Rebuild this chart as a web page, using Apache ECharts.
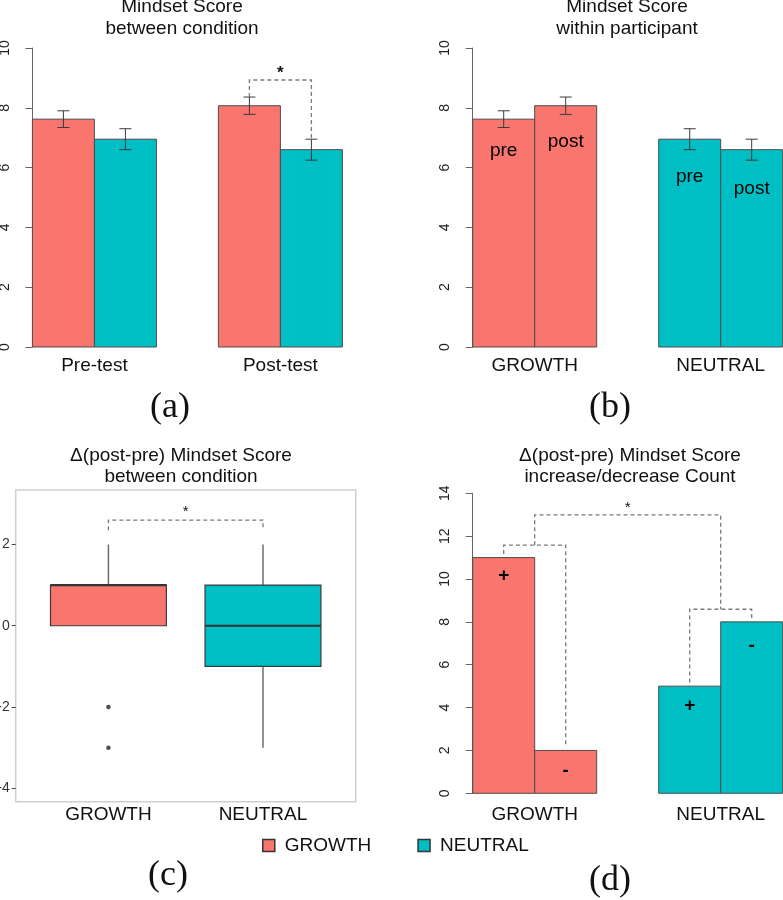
<!DOCTYPE html>
<html><head><meta charset="utf-8">
<script src="https://cdn.jsdelivr.net/npm/echarts@6/dist/echarts.min.js"></script>
<style>html,body{margin:0;padding:0;background:#fff}#c{width:783px;height:900px}</style>
</head><body><div id="c"></div>
<script>
// ---------------- data ----------------
const groups = ['GROWTH', 'NEUTRAL'];
const testCats = ['Pre-test', 'Post-test'];
const phaseLabels = ['pre', 'post'];
const growthMean = [7.62, 8.07];     // pre, post
const growthSE = [0.28, 0.29];
const neutralMean = [6.95, 6.60];    // pre, post
const neutralSE = [0.35, 0.35];
const scoreTicks = [0, 2, 4, 6, 8, 10];
// (c) post-pre delta: [lower whisker, Q1, median, Q3, upper whisker]
const growthDeltaBox = [0, 0, 1, 1, 2];
const neutralDeltaBox = [-3, -1, 0, 1, 2];
const growthDeltaOutliers = [-2, -3];
const neutralDeltaOutliers = [];
const deltaTicks = [-4, -2, 0, 2];
// (d) counts: [increase (+), decrease (-)]
const changeSigns = ['+', '-'];
const growthCounts = [11, 2];
const neutralCounts = [5, 8];
const countTicks = [0, 2, 4, 6, 8, 10, 12, 14];
// significance annotations (data units)
const sigA = { level: 8.93, star: 9.15 };
const sigC = { level: 2.6, end: 2.35, star: 2.8 };
const sigD = { growthLevel: 11.58, neutralLevel: 8.59, topLevel: 12.99, star: 13.3, gap: 0.17 };

// ---------------- styles ----------------
const COL = { GROWTH: '#F8766D', NEUTRAL: '#00BFC4' };
const SANS = '"Liberation Sans", Arial, sans-serif';
const SERIF = '"Liberation Serif", "Times New Roman", serif';
const U = 62;
const gridA = { left: 20, top: 48, width: 5.4 * U, height: 299, outerBoundsMode: 'none' };
const gridB = { left: 460.3, top: 48, width: 5.4 * U, height: 299, outerBoundsMode: 'none' };
const gridC = { left: 15.7, top: 490, width: 340, height: 311.7, outerBoundsMode: 'none' };
const gridD = { left: 460.3, top: 493.3, width: 5.4 * U, height: 300, outerBoundsMode: 'none' };
const phaseLabelOffsets = { GROWTH: [32, 36], NEUTRAL: [38, 39] };
const signLabelOffsets = { GROWTH: [18, 20], NEUTRAL: [20, 24] };

function barRenderer(color, texts, offsets, font) {
  return function (params, api) {
    const i = params.dataIndex;
    const x = api.value(0), y = api.value(1), se = api.value(2);
    const tl = api.coord([x - 0.5, y]), br = api.coord([x + 0.5, 0]);
    const ch = [{
      type: 'rect',
      shape: { x: tl[0], y: tl[1], width: br[0] - tl[0], height: br[1] - tl[1] },
      style: { fill: color, stroke: '#4d4d4d', lineWidth: 1 }
    }];
    if (se > 0) {
      const t = api.coord([x, y + se]), b = api.coord([x, y - se]);
      const cw = 6, st = { stroke: '#3a3a3a', lineWidth: 1 };
      ch.push({ type: 'line', shape: { x1: t[0], y1: t[1], x2: b[0], y2: b[1] }, style: st });
      ch.push({ type: 'line', shape: { x1: t[0] - cw, y1: t[1], x2: t[0] + cw, y2: t[1] }, style: st });
      ch.push({ type: 'line', shape: { x1: b[0] - cw, y1: b[1], x2: b[0] + cw, y2: b[1] }, style: st });
    }
    if (texts) {
      ch.push({
        type: 'text', x: (tl[0] + br[0]) / 2, y: tl[1] + offsets[i],
        style: { text: texts[i], font: font, fill: '#000', textAlign: 'center', textVerticalAlign: 'middle' }
      });
    }
    return { type: 'group', children: ch };
  };
}

function bracketRenderer() {
  return function (params, api) {
    const x1 = api.value(0), x2 = api.value(1), lev = api.value(2), e1 = api.value(3), e2 = api.value(4);
    const pts = [api.coord([x1, e1]), api.coord([x1, lev]), api.coord([x2, lev]), api.coord([x2, e2])];
    return { type: 'polyline', shape: { points: pts }, style: { stroke: '#7a7a7a', lineWidth: 1.3, lineDash: [4, 3], fill: null } };
  };
}
function starRenderer(font) {
  return function (params, api) {
    const p = api.coord([api.value(0), api.value(1)]);
    return { type: 'text', x: p[0], y: p[1], style: { text: '*', font: font, fill: '#111', textAlign: 'center', textVerticalAlign: 'middle' } };
  };
}

function boxRenderer(color) {
  return function (params, api) {
    const x = api.value(0), lo = api.value(1), q1 = api.value(2), med = api.value(3), q3 = api.value(4), hi = api.value(5);
    const hw = 0.375;
    const a = api.coord([x - hw, q3]), b = api.coord([x + hw, q1]);
    const wst = { stroke: '#6e6e6e', lineWidth: 1.5 };
    const ch = [];
    if (hi > q3) { const p = api.coord([x, hi]), q = api.coord([x, q3]); ch.push({ type: 'line', shape: { x1: p[0], y1: p[1], x2: q[0], y2: q[1] }, style: wst }); }
    if (lo < q1) { const p = api.coord([x, q1]), q = api.coord([x, lo]); ch.push({ type: 'line', shape: { x1: p[0], y1: p[1], x2: q[0], y2: q[1] }, style: wst }); }
    ch.push({ type: 'rect', shape: { x: a[0], y: a[1], width: b[0] - a[0], height: b[1] - a[1] }, style: { fill: color, stroke: '#3a3a3a', lineWidth: 1.2 } });
    const m1 = api.coord([x - hw, med]), m2 = api.coord([x + hw, med]);
    ch.push({ type: 'line', shape: { x1: m1[0], y1: m1[1], x2: m2[0], y2: m2[1] }, style: { stroke: '#333', lineWidth: 2.2 } });
    return { type: 'group', children: ch };
  };
}

function rAxisY(idx, max) {
  return {
    type: 'value', gridIndex: idx, min: 0, max: max, interval: 2,
    axisLine: { show: true, lineStyle: { color: '#666', width: 1 } },
    axisTick: { show: true, length: 7, lineStyle: { color: '#666', width: 1 } },
    axisLabel: { rotate: 90, fontSize: 14, fontFamily: SANS, color: '#222', margin: 8 },
    splitLine: { show: false }
  };
}
function labelAxisX(idx, min, max, values, names, margin) {
  return {
    type: 'value', gridIndex: idx, min: min, max: max,
    axisLine: { show: false }, axisTick: { show: false }, splitLine: { show: false },
    axisLabel: {
      customValues: values, margin: margin, fontSize: 19, fontFamily: SANS, color: '#111',
      formatter: v => names[values.indexOf(v)]
    }
  };
}

const tTitle = (x, y, t) => ({ type: 'text', x: x, y: y, style: { text: t, font: '19px ' + SANS, fill: '#111', textAlign: 'center', textVerticalAlign: 'middle' } });
const tSub = (x, y, t) => ({ type: 'text', x: x, y: y, style: { text: t, font: '36px ' + SERIF, fill: '#111', textAlign: 'center', textVerticalAlign: 'middle' } });

const option = {
  animation: false,
  backgroundColor: '#fff',
  grid: [
    gridA, gridB,
    Object.assign({ show: true, borderColor: '#cfcfcf', borderWidth: 1.5, backgroundColor: '#fff' }, gridC),
    gridD
  ],
  xAxis: [
    labelAxisX(0, -0.2, 5.2, [1, 4], testCats, 9),
    labelAxisX(1, -0.2, 5.2, [1, 4], groups, 9),
    labelAxisX(2, 0.4, 2.6, [1, 2], groups, 4),
    labelAxisX(3, -0.2, 5.2, [1, 4], groups, 12)
  ],
  yAxis: [
    rAxisY(0, scoreTicks[scoreTicks.length - 1]),
    rAxisY(1, scoreTicks[scoreTicks.length - 1]),
    {
      type: 'value', gridIndex: 2, min: -4.33, max: 3.34,
      axisLine: { show: false },
      axisTick: { show: true, customValues: deltaTicks, length: 4, lineStyle: { color: '#444' } },
      axisLabel: { customValues: deltaTicks, fontSize: 14, fontFamily: SANS, color: '#333', margin: 6 },
      splitLine: { show: false }
    },
    rAxisY(3, countTicks[countTicks.length - 1])
  ],
  legend: {
    left: 262, top: 836, padding: 0, icon: 'rect', itemWidth: 12, itemHeight: 12, itemGap: 46,
    selectedMode: false,
    textStyle: { fontSize: 19, fontFamily: SANS, color: '#111', padding: [0, 0, 0, 5] },
    data: groups.map(g => ({ name: g, itemStyle: { color: COL[g], borderColor: '#333', borderWidth: 1.5 } }))
  },
  graphic: [
    tTitle(182, 7, 'Mindset Score'), tTitle(182, 29, 'between condition'),
    tTitle(627, 7, 'Mindset Score'), tTitle(627, 29, 'within participant'),
    tTitle(181, 456, 'Δ(post-pre) Mindset Score'), tTitle(181, 477, 'between condition'),
    tTitle(630, 456, 'Δ(post-pre) Mindset Score'), tTitle(630, 477, 'increase/decrease Count'),
    tSub(170, 408, '(a)'), tSub(610, 408, '(b)'), tSub(168, 876, '(c)'), tSub(610, 881, '(d)')
  ],
  series: [
    // (a)
    { name: 'GROWTH', type: 'custom', xAxisIndex: 0, yAxisIndex: 0, itemStyle: { color: COL.GROWTH },
      renderItem: barRenderer(COL.GROWTH), data: testCats.map((c, i) => [i * 3 + 0.5, growthMean[i], growthSE[i]]) },
    { name: 'NEUTRAL', type: 'custom', xAxisIndex: 0, yAxisIndex: 0, itemStyle: { color: COL.NEUTRAL },
      renderItem: barRenderer(COL.NEUTRAL), data: testCats.map((c, i) => [i * 3 + 1.5, neutralMean[i], neutralSE[i]]) },
    { name: 'sigA', type: 'custom', xAxisIndex: 0, yAxisIndex: 0, renderItem: bracketRenderer(),
      data: [[3.5, 4.5, sigA.level, growthMean[1] + growthSE[1], neutralMean[1] + neutralSE[1]]] },
    { name: 'sigAStar', type: 'custom', xAxisIndex: 0, yAxisIndex: 0, renderItem: starRenderer('bold 17px ' + SANS),
      data: [[4, sigA.star]] },
    // (b)
    { name: 'GROWTH', type: 'custom', xAxisIndex: 1, yAxisIndex: 1, itemStyle: { color: COL.GROWTH },
      renderItem: barRenderer(COL.GROWTH, phaseLabels, phaseLabelOffsets.GROWTH, '19px ' + SANS),
      data: phaseLabels.map((p, i) => [0.5 + i, growthMean[i], growthSE[i]]) },
    { name: 'NEUTRAL', type: 'custom', xAxisIndex: 1, yAxisIndex: 1, itemStyle: { color: COL.NEUTRAL },
      renderItem: barRenderer(COL.NEUTRAL, phaseLabels, phaseLabelOffsets.NEUTRAL, '19px ' + SANS),
      data: phaseLabels.map((p, i) => [3.5 + i, neutralMean[i], neutralSE[i]]) },
    // (c)
    { name: 'GROWTH', type: 'custom', xAxisIndex: 2, yAxisIndex: 2, itemStyle: { color: COL.GROWTH },
      renderItem: boxRenderer(COL.GROWTH), data: [[1].concat(growthDeltaBox)] },
    { name: 'NEUTRAL', type: 'custom', xAxisIndex: 2, yAxisIndex: 2, itemStyle: { color: COL.NEUTRAL },
      renderItem: boxRenderer(COL.NEUTRAL), data: [[2].concat(neutralDeltaBox)] },
    { name: 'outliers', type: 'scatter', xAxisIndex: 2, yAxisIndex: 2, symbolSize: 4.5, itemStyle: { color: '#222' },
      data: growthDeltaOutliers.map(v => [1, v]).concat(neutralDeltaOutliers.map(v => [2, v])) },
    { name: 'sigC', type: 'custom', xAxisIndex: 2, yAxisIndex: 2, renderItem: bracketRenderer(),
      data: [[1, 2, sigC.level, sigC.end, sigC.end]] },
    { name: 'sigCStar', type: 'custom', xAxisIndex: 2, yAxisIndex: 2, renderItem: starRenderer('15px ' + SANS),
      data: [[1.5, sigC.star]] },
    // (d)
    { name: 'GROWTH', type: 'custom', xAxisIndex: 3, yAxisIndex: 3, itemStyle: { color: COL.GROWTH },
      renderItem: barRenderer(COL.GROWTH, changeSigns, signLabelOffsets.GROWTH, 'bold 19px ' + SANS),
      data: changeSigns.map((s, i) => [0.5 + i, growthCounts[i], 0]) },
    { name: 'NEUTRAL', type: 'custom', xAxisIndex: 3, yAxisIndex: 3, itemStyle: { color: COL.NEUTRAL },
      renderItem: barRenderer(COL.NEUTRAL, changeSigns, signLabelOffsets.NEUTRAL, 'bold 19px ' + SANS),
      data: changeSigns.map((s, i) => [3.5 + i, neutralCounts[i], 0]) },
    { name: 'sigD', type: 'custom', xAxisIndex: 3, yAxisIndex: 3, renderItem: bracketRenderer(),
      data: [
        [0.5, 1.5, sigD.growthLevel, growthCounts[0] + sigD.gap, growthCounts[1] + sigD.gap],
        [3.5, 4.5, sigD.neutralLevel, neutralCounts[0] + sigD.gap, neutralCounts[1] + sigD.gap],
        [1, 4, sigD.topLevel, sigD.growthLevel, sigD.neutralLevel]
      ] },
    { name: 'sigDStar', type: 'custom', xAxisIndex: 3, yAxisIndex: 3, renderItem: starRenderer('15px ' + SANS),
      data: [[2.5, sigD.star]] }
  ]
};

const chart = echarts.init(document.getElementById('c'), null, { renderer: 'canvas' });
chart.setOption(option);
</script>
</body></html>
